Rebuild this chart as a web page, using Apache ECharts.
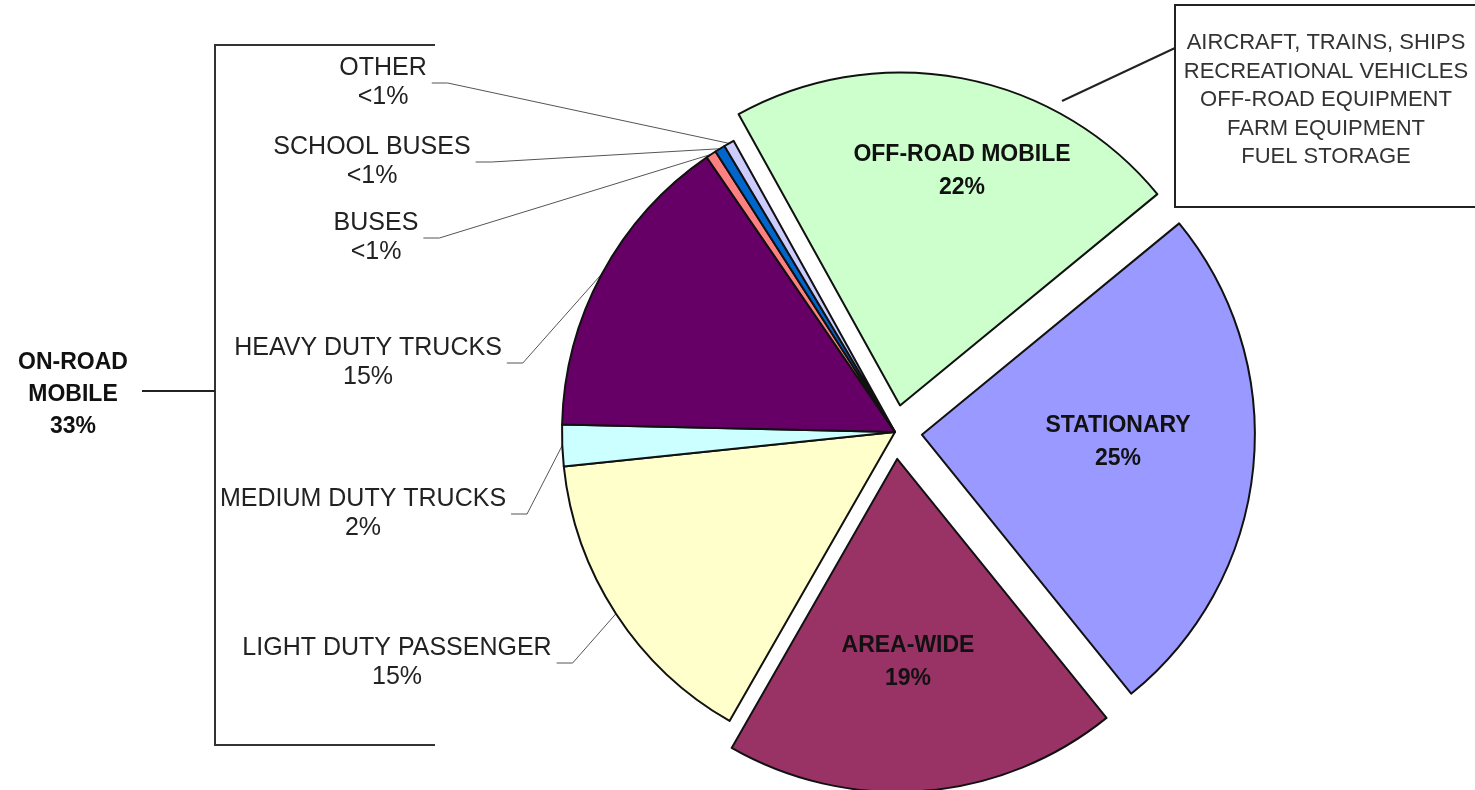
<!DOCTYPE html>
<html>
<head>
<meta charset="utf-8">
<title>Emission sources</title>
<script src="https://cdn.jsdelivr.net/npm/echarts@6/dist/echarts.min.js"></script>
<style>
  html, body { margin: 0; padding: 0; background: #ffffff; }
  #chart { width: 1475px; height: 790px; }
</style>
</head>
<body>
<div id="chart"></div>
<script>
// Emission sources, listed clockwise starting from the top of the pie
const sourceNames = [
  'OFF-ROAD MOBILE', 'STATIONARY', 'AREA-WIDE',
  'LIGHT DUTY PASSENGER', 'MEDIUM DUTY TRUCKS', 'HEAVY DUTY TRUCKS',
  'BUSES', 'SCHOOL BUSES', 'OTHER'
];
// Share of total emissions, percent (the three "<1%" sources as 0.5)
const sharePct = [22, 25, 19, 15, 2, 15, 0.5, 0.5, 0.5];
const sliceColors = [
  '#ccffcc', '#9999ff', '#993366',
  '#ffffcc', '#ccffff', '#660066',
  '#ff8080', '#0066cc', '#ccccff'
];
// Main categories are pulled away from the on-road group
const pulledOut = [true, true, true, false, false, false, false, false, false];

const onRoadGroup = ['ON-ROAD', 'MOBILE', '33%'];
const offRoadExamples = [
  'AIRCRAFT, TRAINS, SHIPS',
  'RECREATIONAL VEHICLES',
  'OFF-ROAD EQUIPMENT',
  'FARM EQUIPMENT',
  'FUEL STORAGE'
];

const FONT = '"Liberation Sans", Arial, Helvetica, sans-serif';

// Where each label sits (centre of the text block); on-road labels get leader lines
const labelSpots = {
  'OFF-ROAD MOBILE':      { x: 962,  y: 171 },
  'STATIONARY':           { x: 1118, y: 442 },
  'AREA-WIDE':            { x: 908,  y: 662 },
  'LIGHT DUTY PASSENGER': { x: 397,  y: 663, line: true },
  'MEDIUM DUTY TRUCKS':   { x: 363,  y: 514, line: true },
  'HEAVY DUTY TRUCKS':    { x: 368,  y: 363, line: true },
  'BUSES':                { x: 376,  y: 238, line: true },
  'SCHOOL BUSES':         { x: 372,  y: 162, line: true },
  'OTHER':                { x: 383,  y: 83,  line: true }
};

function pctText(v) {
  return v < 1 ? '<1%' : v + '%';
}

function placeLabel(p) {
  const spot = labelSpots[sourceNames[p.dataIndex]];
  if (!spot) return {};
  const out = { x: spot.x, y: spot.y, align: 'center', verticalAlign: 'middle' };
  if (spot.line && p.labelLinePoints) {
    const endX = spot.x + p.labelRect.width / 2 + 5;
    out.labelLinePoints = [
      p.labelLinePoints[0],
      [endX + 16, spot.y],
      [endX, spot.y]
    ];
  }
  return out;
}

const CENTER = [895, 432];
const RADIUS = 333;
const START = 119;

// Visible slices; on-road sources carry their own labels with leader lines
const pieData = sourceNames.map(function (name, i) {
  return {
    name: name,
    value: sharePct[i],
    selected: pulledOut[i],
    itemStyle: { color: sliceColors[i] },
    label: { show: !pulledOut[i] },
    labelLine: { show: !pulledOut[i] }
  };
});

// Same shares again, unfilled, carrying the bold labels of the pulled-out slices
const sliceTextData = sourceNames.map(function (name, i) {
  return {
    name: name,
    value: sharePct[i],
    label: { show: pulledOut[i] }
  };
});

const chart = echarts.init(document.getElementById('chart'), null, { renderer: 'canvas' });

chart.setOption({
  backgroundColor: '#ffffff',
  animation: false,
  series: [{
    type: 'pie',
    center: CENTER,
    radius: RADIUS,
    startAngle: START,
    clockwise: true,
    selectedMode: 'multiple',
    selectedOffset: 27,
    avoidLabelOverlap: false,
    emphasis: { disabled: true },
    itemStyle: { borderColor: '#111', borderWidth: 2 },
    select: { itemStyle: { borderColor: '#111', borderWidth: 2 } },
    label: {
      position: 'outside',
      fontFamily: FONT,
      fontSize: 25,
      lineHeight: 29,
      color: '#222',
      formatter: function (p) { return p.name + '\n' + pctText(p.value); }
    },
    labelLine: {
      length: 10,
      length2: 10,
      lineStyle: { color: '#555', width: 1 }
    },
    labelLayout: placeLabel,
    data: pieData
  }, {
    type: 'pie',
    silent: true,
    z: 3,
    center: CENTER,
    radius: RADIUS,
    startAngle: START,
    clockwise: true,
    selectedMode: false,
    avoidLabelOverlap: false,
    emphasis: { disabled: true },
    itemStyle: { color: 'rgba(0,0,0,0)', borderWidth: 0 },
    label: {
      position: 'outside',
      fontFamily: FONT,
      fontWeight: 'bold',
      fontSize: 23,
      lineHeight: 33,
      color: '#111',
      formatter: function (p) { return p.name + '\n' + pctText(p.value); }
    },
    labelLine: { show: false },
    labelLayout: placeLabel,
    data: sliceTextData
  }],
  graphic: [
    // bracket grouping the on-road sources
    {
      type: 'polyline',
      shape: { points: [[435, 45], [215, 45], [215, 745], [435, 745]] },
      style: { stroke: '#333', lineWidth: 2, fill: null }
    },
    {
      type: 'line',
      shape: { x1: 142, y1: 391, x2: 215, y2: 391 },
      style: { stroke: '#222', lineWidth: 2 }
    },
    {
      type: 'text',
      x: 73, y: 395,
      style: {
        text: onRoadGroup.join('\n'),
        fontFamily: FONT, fontSize: 23, fontWeight: 'bold',
        lineHeight: 32, fill: '#111',
        align: 'center', verticalAlign: 'middle'
      }
    },
    // callout listing off-road sources
    {
      type: 'line',
      shape: { x1: 1175, y1: 48, x2: 1062, y2: 101 },
      style: { stroke: '#222', lineWidth: 2 }
    },
    {
      type: 'rect',
      shape: { x: 1175, y: 5, width: 310, height: 202 },
      style: { fill: '#ffffff', stroke: '#222', lineWidth: 2 }
    },
    {
      type: 'text',
      x: 1326, y: 100,
      style: {
        text: offRoadExamples.join('\n'),
        fontFamily: FONT, fontSize: 22,
        lineHeight: 28.5, fill: '#333',
        align: 'center', verticalAlign: 'middle'
      }
    }
  ]
});
</script>
</body>
</html>
